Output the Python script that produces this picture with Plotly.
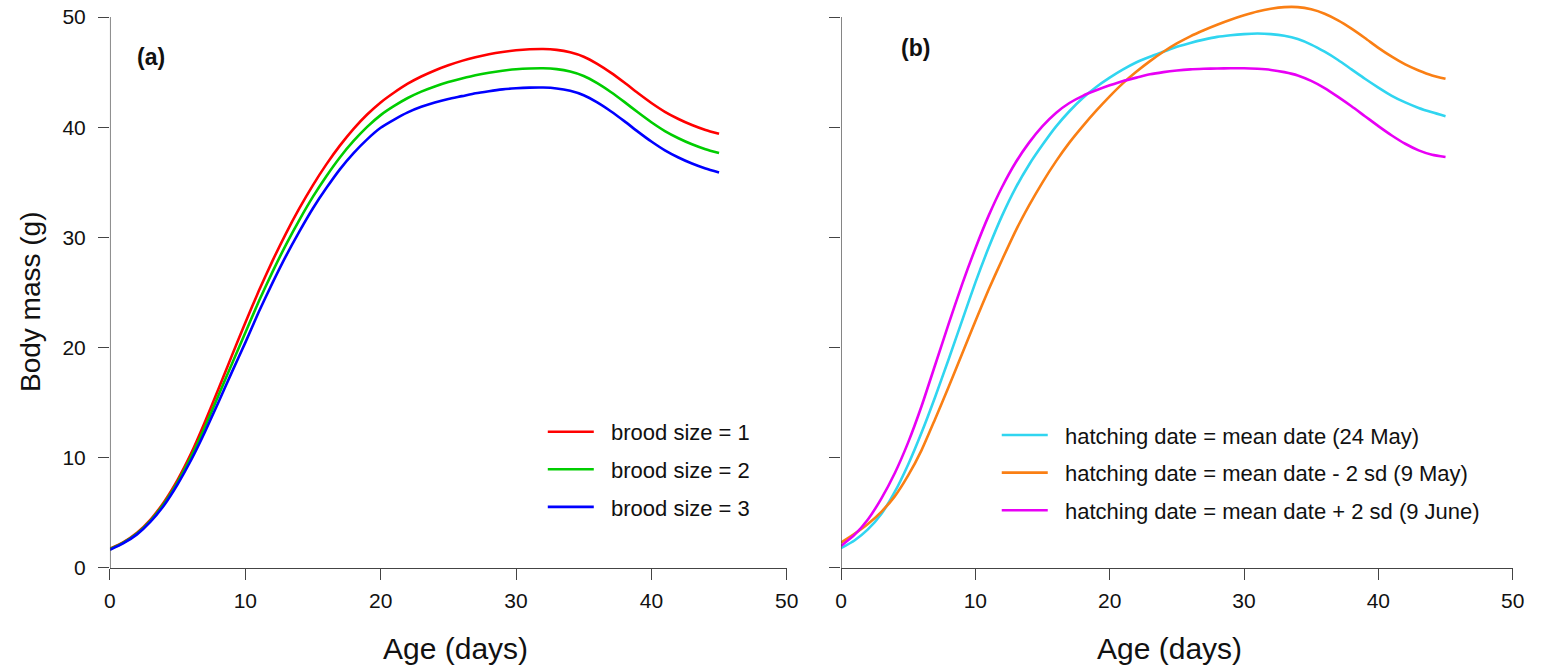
import plotly.graph_objects as go

# Nestling age (days) at which the fitted growth curves are sampled
age = list(range(0, 46))

# (a) predicted body mass (g) by brood size
brood1 = [1.75, 2.35, 3.2, 4.4, 6.0, 8.0, 10.4, 13.2, 16.2, 19.25,
          22.25, 25.15, 27.85, 30.35, 32.65, 34.75, 36.65, 38.35, 39.85, 41.15,
          42.25, 43.15, 43.95, 44.6, 45.15, 45.62, 46.02, 46.35, 46.62, 46.83,
          46.98, 47.07, 47.1, 47.02, 46.8, 46.4, 45.75, 44.95, 44.05, 43.1,
          42.2, 41.4, 40.75, 40.2, 39.75, 39.4]
brood2 = [1.7, 2.3, 3.13, 4.3, 5.85, 7.8, 10.1, 12.75, 15.6, 18.5,
          21.35, 24.2, 26.85, 29.33, 31.6, 33.7, 35.58, 37.28, 38.75, 40.03,
          41.1, 41.93, 42.65, 43.23, 43.7, 44.1, 44.42, 44.72, 44.95, 45.13,
          45.26, 45.33, 45.35, 45.27, 45.05, 44.65, 44.0, 43.2, 42.3, 41.35,
          40.45, 39.65, 39.0, 38.45, 38.0, 37.65]
brood3 = [1.65, 2.25, 3.05, 4.2, 5.7, 7.6, 9.8, 12.3, 15.0, 17.75,
          20.45, 23.25, 25.85, 28.3, 30.55, 32.65, 34.5, 36.2, 37.65, 38.9,
          39.95, 40.7, 41.35, 41.85, 42.25, 42.57, 42.82, 43.08, 43.27, 43.43,
          43.53, 43.59, 43.6, 43.52, 43.3, 42.9, 42.25, 41.45, 40.55, 39.6,
          38.7, 37.9, 37.25, 36.7, 36.25, 35.9]

# (b) predicted body mass (g) by hatching date
date_mean = [1.8, 2.5, 3.5, 4.9, 6.9, 9.4, 12.3, 15.5, 18.9, 22.4,
             25.9, 29.1, 32.0, 34.5, 36.6, 38.4, 40.05, 41.45, 42.65, 43.65,
             44.5, 45.25, 45.9, 46.4, 46.85, 47.3, 47.65, 47.95, 48.2, 48.35,
             48.45, 48.5, 48.45, 48.3, 48.0, 47.5, 46.85, 46.1, 45.25, 44.4,
             43.6, 42.85, 42.25, 41.75, 41.35, 41.0]
date_early = [2.3, 3.1, 4.0, 5.1, 6.5, 8.4, 10.7, 13.5, 16.4, 19.4,
              22.4, 25.3, 28.0, 30.6, 32.9, 35.0, 36.9, 38.6, 40.1, 41.5,
              42.8, 44.0, 45.05, 46.0, 46.85, 47.6, 48.25, 48.8, 49.3, 49.75,
              50.15, 50.5, 50.75, 50.9, 50.9, 50.7, 50.3, 49.7, 48.95, 48.1,
              47.2, 46.4, 45.7, 45.15, 44.7, 44.4]
date_late = [2.0, 3.0, 4.4, 6.3, 8.6, 11.4, 14.7, 18.4, 22.1, 25.7,
             29.0, 32.0, 34.6, 36.8, 38.6, 40.1, 41.3, 42.2, 42.85, 43.35,
             43.8, 44.2, 44.5, 44.8, 45.0, 45.15, 45.25, 45.3, 45.33, 45.35,
             45.35, 45.3, 45.2, 45.0, 44.7, 44.2, 43.55, 42.75, 41.9, 41.0,
             40.1, 39.25, 38.5, 37.9, 37.5, 37.3]

brood_names = ["brood size = 1", "brood size = 2", "brood size = 3"]
date_names = [
    "hatching date = mean date (24 May)",
    "hatching date = mean date - 2 sd (9 May)",
    "hatching date = mean date + 2 sd (9 June)",
]

axis_ticks = [0, 10, 20, 30, 40, 50]

FONT = "Liberation Sans, Arial, Helvetica, sans-serif"
AXIS_COLOR = "#444444"
PAD = "\u00a0\u00a0"  # a little extra room between legend key and label

fig = go.Figure()

for name, ys, col in zip(brood_names, [brood1, brood2, brood3], ["#FF0000", "#00CD00", "#0000FF"]):
    fig.add_trace(go.Scatter(
        x=age, y=ys, name=PAD + name, mode="lines",
        line=dict(color=col, width=2.6, shape="spline", smoothing=0.6),
        xaxis="x", yaxis="y", legend="legend", legendgroup=name,
    ))

for name, ys, col in zip(date_names, [date_mean, date_early, date_late], ["#30D5F0", "#FA7F14", "#E800F5"]):
    fig.add_trace(go.Scatter(
        x=age, y=ys, name=PAD + name, mode="lines",
        line=dict(color=col, width=2.6, shape="spline", smoothing=0.6),
        xaxis="x2", yaxis="y2", legend="legend2", legendgroup=name,
    ))

tick_style = dict(
    ticks="outside", ticklen=11, tickwidth=1.3, tickcolor=AXIS_COLOR,
    showgrid=False, zeroline=False, fixedrange=True, automargin=False,
    tickfont=dict(family=FONT, size=21, color="#111111"),
)

title_font = dict(family=FONT, size=30, color="#111111")
legend_font = dict(family=FONT, size=22, color="#111111")
y_domain = [0.14715, 0.99595]

fig.update_layout(
    width=1542, height=666,
    margin=dict(l=0, r=0, t=0, b=0),
    paper_bgcolor="white", plot_bgcolor="white",
    xaxis=dict(tick_style, range=[0, 50], tickvals=axis_ticks, domain=[0.0713, 0.5102], anchor="y",
               showline=True, linecolor=AXIS_COLOR, linewidth=1.3, ticklabelstandoff=3),
    yaxis=dict(tick_style, range=[0, 51.3], tickvals=axis_ticks, domain=y_domain, anchor="x",
               showline=False, ticklabelstandoff=8),
    xaxis2=dict(tick_style, range=[0, 50], tickvals=axis_ticks, domain=[0.5454, 0.981], anchor="y2",
                showline=True, linecolor=AXIS_COLOR, linewidth=1.3, ticklabelstandoff=3),
    yaxis2=dict(tick_style, range=[0, 51.3], tickvals=axis_ticks, domain=y_domain, anchor="x2",
                showline=False, showticklabels=False),
    legend=dict(x=0.352, y=0.383, xanchor="left", yanchor="top", font=legend_font,
                bgcolor="rgba(0,0,0,0)", tracegroupgap=6, itemwidth=46),
    legend2=dict(x=0.6464, y=0.378, xanchor="left", yanchor="top", font=legend_font,
                 bgcolor="rgba(0,0,0,0)", tracegroupgap=6, itemwidth=46),
    shapes=[
        # vertical axis lines span only the labelled 0-50 range
        dict(type="line", xref="x", yref="y", x0=0, x1=0, y0=0, y1=50,
             line=dict(color=AXIS_COLOR, width=1.3)),
        dict(type="line", xref="x2", yref="y2", x0=0, x1=0, y0=0, y1=50,
             line=dict(color=AXIS_COLOR, width=1.3)),
    ],
    annotations=[
        dict(text="<b>(a)</b>", x=1.85, y=46.4, xref="x", yref="y",
             xanchor="left", yanchor="middle", showarrow=False,
             font=dict(family=FONT, size=23, color="#111111")),
        dict(text="<b>(b)</b>", x=4.3, y=47.2, xref="x2", yref="y2",
             xanchor="left", yanchor="middle", showarrow=False,
             font=dict(family=FONT, size=23, color="#111111")),
        # axis titles
        dict(text="Age (days)", x=455.5 / 1542, y=(666 - 648) / 666, xref="paper", yref="paper",
             xanchor="center", yanchor="middle", showarrow=False, font=title_font),
        dict(text="Age (days)", x=1169 / 1542, y=(666 - 648) / 666, xref="paper", yref="paper",
             xanchor="center", yanchor="middle", showarrow=False, font=title_font),
        dict(text="Body mass (g)", x=30 / 1542, y=(666 - 302) / 666, xref="paper", yref="paper",
             xanchor="center", yanchor="middle", textangle=-90, showarrow=False,
             font=dict(family=FONT, size=28, color="#111111")),
    ],
)

fig.write_html("out.html")
